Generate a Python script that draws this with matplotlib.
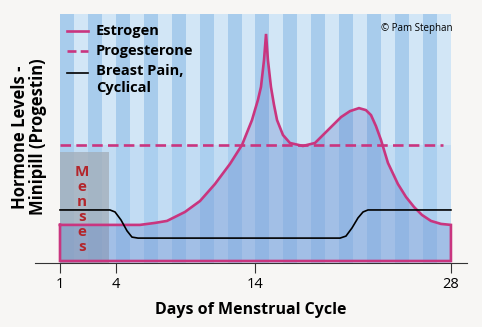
import numpy as np
import matplotlib
matplotlib.use('Agg')
import matplotlib.pyplot as plt

plt.rcParams['font.family'] = ['Open Sans', 'DejaVu Sans']

# x = position along the cycle axis (day units), y = relative hormone level (0-100)
tick_pos = [1, 4.87, 14.47, 28]
tick_labels = ['1', '4', '14', '28']

estrogen_x = [1.0, 3.76, 6.52, 7.56, 8.39, 9.63, 10.67, 11.70, 12.74, 13.57, 14.26, 14.67,
              14.88, 15.09, 15.23, 15.36, 15.57, 15.78, 15.99, 16.40, 16.88, 17.78, 18.61,
              19.51, 20.41, 21.03, 21.65, 22.13, 22.48, 22.82, 23.17, 23.65, 24.34, 24.90,
              25.45, 26.0, 26.62, 27.31, 28.0]
estrogen_y = [15.3, 15.3, 15.3, 16.1, 16.9, 20.5, 24.9, 31.7, 39.8, 47.4, 57.4, 65.5,
              70.7, 81.5, 92.0, 81.5, 70.7, 63.5, 57.4, 51.4, 48.2, 47.0, 48.2,
              53.4, 58.6, 61.0, 62.2, 61.4, 59.4, 55.0, 49.4, 40.2, 31.7, 26.5,
              22.5, 19.3, 16.9, 15.7, 15.3]
estrogen_base = 0.8

progesterone_x = [1.0, 27.45]
progesterone_y = [47.4, 47.4]

pain_x = [1.0, 4.45, 4.80, 5.21, 5.63, 5.97, 6.39, 20.34, 20.75, 21.17, 21.58, 21.93, 22.27, 28.0]
pain_y = [21.3, 21.3, 20.5, 17.3, 12.9, 10.4, 10.0, 10.0, 10.8, 14.1, 18.1, 20.5, 21.3, 21.3]

menses_x = [1.0, 4.38]
menses_top = 44.6

pink = '#c9357f'
bg = '#f7f6f4'

fig = plt.figure(figsize=(4.82, 3.27), dpi=100, facecolor=bg)
ax = fig.add_axes([35/482, 64/327, 432/482, 249/327])
ax.set_facecolor(bg)
ax.set_xlim(-0.727, 29.11)
ax.set_ylim(0, 100)

# striped background, one stripe per day
edges = np.linspace(1, 28, 29)
for i in range(28):
    top_c = '#a8ccec' if i % 2 == 0 else '#d2e6f6'
    low_c = '#abcfef' if i % 2 == 0 else '#c2dcf3'
    ax.fill_between([edges[i], edges[i+1]], progesterone_y[0], 100, color=top_c, lw=0, zorder=0)
    ax.fill_between([edges[i], edges[i+1]], 0, progesterone_y[0], color=low_c, lw=0, zorder=0)

# menses shading
ax.fill_between(menses_x, 0, menses_top, color='#a2adb8', alpha=0.75, lw=0, zorder=1)
ax.text(2.52, 21.5, 'M\ne\nn\ns\ne\ns', color='#b3262c', fontsize=11, fontweight='bold',
        ha='center', va='center', linespacing=1.1, zorder=6)

# estrogen area + outline
ax.fill_between(estrogen_x, estrogen_base, estrogen_y, color='#5b7fc9', alpha=0.3, lw=0, zorder=2)
ex = np.r_[estrogen_x, estrogen_x[-1], estrogen_x[0], estrogen_x[0]]
ey = np.r_[estrogen_y, estrogen_base, estrogen_base, estrogen_y[0]]
ax.plot(ex, ey, color=pink, lw=1.9, zorder=4, solid_joinstyle='miter')

ax.plot(progesterone_x, progesterone_y, color=pink, lw=1.9, linestyle=(0, (4, 2)), zorder=4)
ax.plot(pain_x, pain_y, color='black', lw=1.2, zorder=5)

# axes
for s in ['top', 'right', 'left']:
    ax.spines[s].set_visible(False)
ax.spines['bottom'].set_color('#333333')
ax.spines['bottom'].set_linewidth(0.8)
ax.set_yticks([])
ax.set_xticks(tick_pos)
ax.set_xticklabels(tick_labels, fontsize=10.5)
ax.tick_params(axis='x', length=7, width=0.8, color='#333333', pad=3)
ax.set_xlabel('Days of Menstrual Cycle', fontsize=11.5, fontweight='bold', labelpad=7)
fig.text(29/482, 1 - 137/327, 'Hormone Levels -\nMinipill (Progestin)', fontsize=12,
         fontweight='bold', rotation=90, ha='center', va='center', linespacing=1.05)

# legend drawn by hand
tr = ax.transAxes
leg = [(0.932, '-', pink, 1.9, 'Estrogen'),
       (0.851, '--', pink, 1.9, 'Progesterone'),
       (0.763, '-', 'black', 1.2, 'Breast Pain,\nCyclical')]
for yy, ls, c, lw, lab in leg:
    ax.plot([0.074, 0.123], [yy, yy], transform=tr, color=c, lw=lw,
            linestyle=ls if ls == '-' else (0, (3.4, 1.6)), zorder=6)
    if '\n' in lab:
        ax.text(0.141, yy + 0.035, lab, transform=tr, fontsize=10.5, fontweight='bold',
                va='top', linespacing=1.25, zorder=6)
    else:
        ax.text(0.141, yy, lab, transform=tr, fontsize=10.5, fontweight='bold',
                va='center', zorder=6)

ax.text(0.80, 0.94, '\u00a9 Pam Stephan', transform=tr, fontsize=7, ha='left', va='center', zorder=6)

fig.savefig('out.png', dpi=100, facecolor=bg)
